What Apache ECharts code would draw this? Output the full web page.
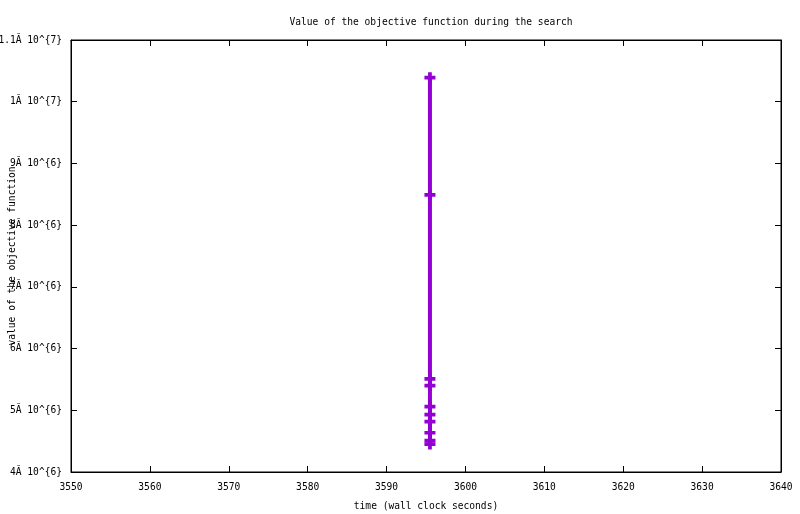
<!DOCTYPE html>
<html>
<head>
<meta charset="utf-8">
<script src="https://cdn.jsdelivr.net/npm/echarts@6/dist/echarts.min.js"></script>
<style>html,body{margin:0;padding:0;background:#fff}#c{width:800px;height:514px}</style>
</head>
<body>
<div id="c"></div>
<script>
var titleText = 'Value of the objective function during the search';
var xName = 'time (wall clock seconds)';
var yName = 'value of the objective function';
var times = [3595.5, 3595.5, 3595.5, 3595.5, 3595.5, 3595.5, 3595.5, 3595.5, 3595.5, 3595.5];
var values = [10390000, 8490000, 5510000, 5400000, 5060000, 4930000, 4815000, 4636000, 4507000, 4453000];
var yTickValues = [4000000, 5000000, 6000000, 7000000, 8000000, 9000000, 10000000, 11000000];
var yTickLabels = ['4\u0102 10^{6}', '5\u0102 10^{6}', '6\u0102 10^{6}', '7\u0102 10^{6}', '8\u0102 10^{6}', '9\u0102 10^{6}', '1\u0102 10^{7}', '1.1\u0102 10^{7}'];
var xTickLabels = ['3550', '3560', '3570', '3580', '3590', '3600', '3610', '3620', '3630', '3640'];

var font = 'DejaVu Sans Mono';
var fs = 9.6;
var data = times.map(function (t, i) { return [t, values[i]]; });
var plus = 'path://M3.3,0 H6.7 V3.3 H10 V6.7 H6.7 V10 H3.3 V6.7 H0 V3.3 H3.3 Z';

var chart = echarts.init(document.getElementById('c'), null, {renderer: 'canvas'});
var tickStyle = {show: true, inside: true, length: 6, lineStyle: {color: '#000', width: 1}};
chart.setOption({
  animation: false,
  backgroundColor: '#fff',
  title: {
    text: titleText, left: 426, top: 12, textAlign: 'center',
    textStyle: {fontFamily: font, fontSize: fs, fontWeight: 'normal', color: '#000'}
  },
  grid: {left: 71, right: 19, top: 40, bottom: 42, containLabel: false, outerBoundsMode: 'none',
    show: true, borderColor: '#000', borderWidth: 1, backgroundColor: 'transparent'},
  xAxis: [{
    type: 'value', min: 3550, max: 3640, interval: 10, position: 'bottom',
    name: xName, nameLocation: 'middle', nameGap: 29,
    nameTextStyle: {fontFamily: font, fontSize: fs, color: '#000'},
    axisLine: {show: true, lineStyle: {color: '#000', width: 1}},
    axisTick: tickStyle, splitLine: {show: false},
    axisLabel: {fontFamily: font, fontSize: fs, color: '#000', margin: 10,
      formatter: function (v) { var i = Math.round((v - 3550) / 10); return xTickLabels[i] || ''; }}
  }, {
    type: 'value', min: 3550, max: 3640, interval: 10, position: 'top',
    axisLine: {show: true, lineStyle: {color: '#000', width: 1}},
    axisTick: tickStyle, axisLabel: {show: false}, splitLine: {show: false}
  }],
  yAxis: [{
    type: 'value', min: 4000000, max: 11000000, interval: 1000000, position: 'left',
    name: yName, nameLocation: 'middle', nameGap: 54, nameRotate: 90, nameMoveOverlap: false,
    nameTextStyle: {fontFamily: font, fontSize: fs, color: '#000'},
    axisLine: {show: true, lineStyle: {color: '#000', width: 1}},
    axisTick: tickStyle, splitLine: {show: false},
    axisLabel: {fontFamily: font, fontSize: fs, color: '#000', margin: 9,
      formatter: function (v) { var i = yTickValues.indexOf(Math.round(v)); return i >= 0 ? yTickLabels[i] : ''; }}
  }, {
    type: 'value', min: 4000000, max: 11000000, interval: 1000000, position: 'right',
    axisLine: {show: true, lineStyle: {color: '#000', width: 1}},
    axisTick: tickStyle, axisLabel: {show: false}, splitLine: {show: false}
  }],
  series: [{
    type: 'line', data: data, xAxisIndex: 0, yAxisIndex: 0,
    symbol: plus, symbolSize: [11, 11], showSymbol: true,
    lineStyle: {color: '#9400D3', width: 4},
    itemStyle: {color: '#9400D3', borderWidth: 0},
    z: 3
  }]
});
</script>
</body>
</html>
